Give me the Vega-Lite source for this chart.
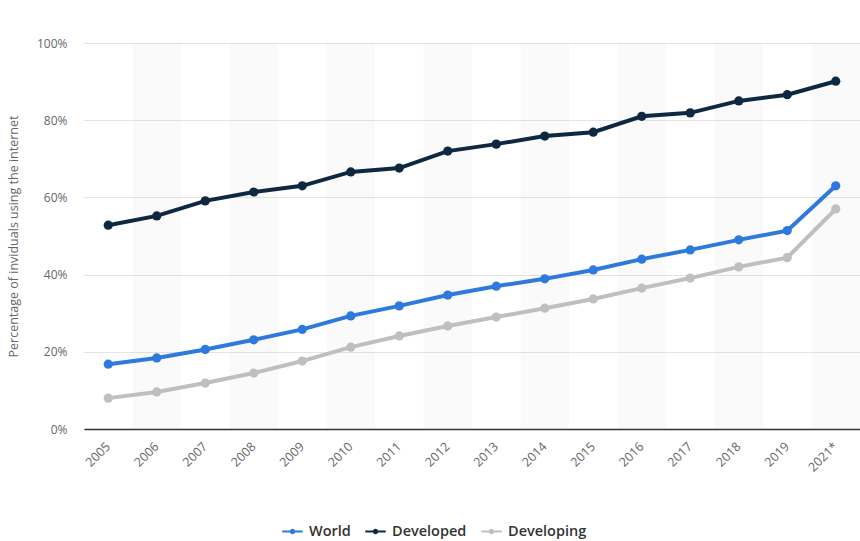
{
  "$schema": "https://vega.github.io/schema/vega-lite/v6.json",
  "width": 776,
  "height": 386,
  "autosize": {"type": "none"},
  "padding": {"left": 84, "top": 43, "right": 0, "bottom": 112},
  "background": "white",
  "config": {
    "view": {"stroke": null},
    "font": "Open Sans",
    "axis": {"labelFont": "Open Sans", "titleFont": "Open Sans"},
    "axisY": {"grid": true, "gridColor": "#c8c8c8", "gridDash": [1, 1], "gridWidth": 1, "gridOpacity": 1}
  },
  "datasets": {
    "bands": [
      {"year": "2006"}, {"year": "2008"}, {"year": "2010"}, {"year": "2012"},
      {"year": "2014"}, {"year": "2016"}, {"year": "2018"}, {"year": "2021*"}
    ],
    "series": [
      {"year": "2005", "region": "World", "value": 16.8},
      {"year": "2006", "region": "World", "value": 18.4},
      {"year": "2007", "region": "World", "value": 20.6},
      {"year": "2008", "region": "World", "value": 23.1},
      {"year": "2009", "region": "World", "value": 25.8},
      {"year": "2010", "region": "World", "value": 29.3},
      {"year": "2011", "region": "World", "value": 31.9},
      {"year": "2012", "region": "World", "value": 34.7},
      {"year": "2013", "region": "World", "value": 37.0},
      {"year": "2014", "region": "World", "value": 38.9},
      {"year": "2015", "region": "World", "value": 41.2},
      {"year": "2016", "region": "World", "value": 44.0},
      {"year": "2017", "region": "World", "value": 46.4},
      {"year": "2018", "region": "World", "value": 49.0},
      {"year": "2019", "region": "World", "value": 51.4},
      {"year": "2021*", "region": "World", "value": 63.0},
      {"year": "2005", "region": "Developed", "value": 52.8},
      {"year": "2006", "region": "Developed", "value": 55.2},
      {"year": "2007", "region": "Developed", "value": 59.1},
      {"year": "2008", "region": "Developed", "value": 61.4},
      {"year": "2009", "region": "Developed", "value": 63.0},
      {"year": "2010", "region": "Developed", "value": 66.6},
      {"year": "2011", "region": "Developed", "value": 67.6},
      {"year": "2012", "region": "Developed", "value": 72.0},
      {"year": "2013", "region": "Developed", "value": 73.8},
      {"year": "2014", "region": "Developed", "value": 75.9},
      {"year": "2015", "region": "Developed", "value": 76.9},
      {"year": "2016", "region": "Developed", "value": 81.0},
      {"year": "2017", "region": "Developed", "value": 81.9},
      {"year": "2018", "region": "Developed", "value": 85.0},
      {"year": "2019", "region": "Developed", "value": 86.6},
      {"year": "2021*", "region": "Developed", "value": 90.1},
      {"year": "2005", "region": "Developing", "value": 8.0},
      {"year": "2006", "region": "Developing", "value": 9.6},
      {"year": "2007", "region": "Developing", "value": 11.9},
      {"year": "2008", "region": "Developing", "value": 14.5},
      {"year": "2009", "region": "Developing", "value": 17.6},
      {"year": "2010", "region": "Developing", "value": 21.2},
      {"year": "2011", "region": "Developing", "value": 24.1},
      {"year": "2012", "region": "Developing", "value": 26.7},
      {"year": "2013", "region": "Developing", "value": 29.0},
      {"year": "2014", "region": "Developing", "value": 31.3},
      {"year": "2015", "region": "Developing", "value": 33.7},
      {"year": "2016", "region": "Developing", "value": 36.5},
      {"year": "2017", "region": "Developing", "value": 39.1},
      {"year": "2018", "region": "Developing", "value": 42.0},
      {"year": "2019", "region": "Developing", "value": 44.4},
      {"year": "2021*", "region": "Developing", "value": 57.0}
    ]
  },
  "layer": [
    {
      "data": {"name": "bands"},
      "mark": {"type": "rect", "color": "#000000", "opacity": 0.02},
      "encoding": {
        "x": {"field": "year", "type": "ordinal", "scale": {"domain": ["2005","2006","2007","2008","2009","2010","2011","2012","2013","2014","2015","2016","2017","2018","2019","2021*"], "paddingInner": 0, "paddingOuter": 0}},
        "y": {"datum": 0, "type": "quantitative", "scale": {"domain": [0, 100]}},
        "y2": {"datum": 100}
      }
    },
    {
      "data": {"name": "series"},
      "mark": {"type": "line", "strokeWidth": 4, "point": {"filled": true, "size": 85}},
      "encoding": {
        "x": {
          "field": "year", "type": "ordinal",
          "axis": {
            "title": null, "labelAngle": -45, "labelAlign": "right", "labelBaseline": "middle",
            "labelFontSize": 12.5, "labelColor": "#666666", "labelPadding": 15,
            "ticks": false, "domainColor": "#333333", "domainWidth": 1.5, "grid": false
          }
        },
        "y": {
          "field": "value", "type": "quantitative",
          "scale": {"domain": [0, 100]},
          "axis": {
            "title": "Percentage of inviduals using the internet",
            "titleFontSize": 12.5, "titleFontWeight": "normal", "titleColor": "#666666", "titlePadding": 16,
            "values": [0, 20, 40, 60, 80, 100], "labelExpr": "datum.value + '%'",
            "labelFontSize": 12, "labelColor": "#666666", "labelPadding": 17,
            "ticks": false, "domain": false, "grid": true,
            "gridColor": "#c8c8c8", "gridDash": [1, 1], "gridWidth": 1
          }
        },
        "color": {
          "field": "region", "type": "nominal",
          "scale": {"domain": ["World", "Developed", "Developing"], "range": ["#2d79dc", "#0d2840", "#bfbfbf"]},
          "legend": {
            "title": null, "orient": "none", "direction": "horizontal",
            "legendX": 198, "legendY": 478,
            "symbolType": "M-1,-0.1L1,-0.1L1,0.1L-1,0.1Z M-0.26,0A0.26,0.26 0 1,1 0.26,0A0.26,0.26 0 1,1 -0.26,0Z",
            "symbolSize": 420, "symbolStrokeWidth": 0,
            "labelFontSize": 14.5, "labelFontWeight": 600, "labelColor": "#333333",
            "columnPadding": 14, "labelOffset": 6
          }
        }
      }
    }
  ]
}
